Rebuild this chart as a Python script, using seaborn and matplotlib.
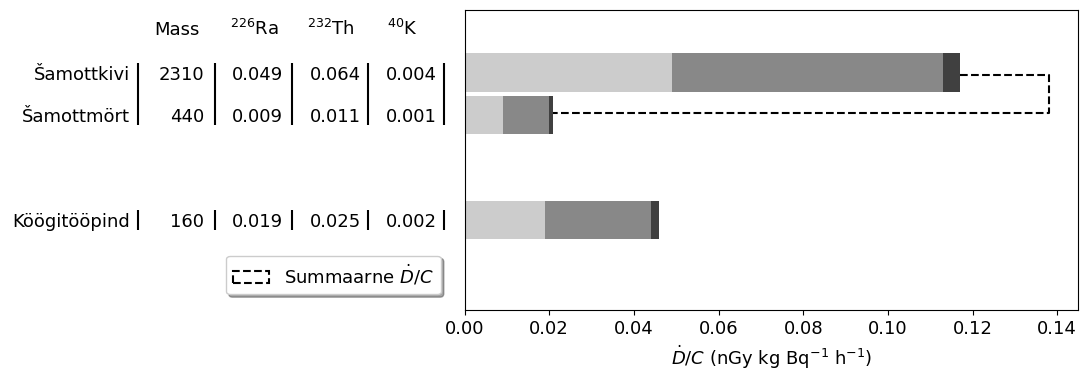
import matplotlib
matplotlib.use("Agg")
import matplotlib.pyplot as plt
import matplotlib.transforms as mtransforms
from matplotlib.patches import Patch
import numpy as np
import pandas as pd
import seaborn as sns

# ---- data ----
names = ["Šamottkivi", "Šamottmört", "Köögitööpind"]
mass = [2310, 440, 160]
ra226 = [0.049, 0.009, 0.019]
th232 = [0.064, 0.011, 0.025]
k40 = [0.004, 0.001, 0.002]
rows = [0, 1, 3.47]
headers = ["Mass", r"$^{226}$Ra", r"$^{232}$Th", r"$^{40}$K"]
groups = [(0, 1), (2, 2)]
legend_label = r"Summaarne $\dot{D}/C$"
xlabel = r"$\dot{D}/C$ (nGy kg Bq$^{-1}$ h$^{-1}$)"

colors = ["#cccccc", "#888888", "#404040"]

FS = 13
plt.rcParams["font.family"] = ["DejaVu Sans"]
plt.rcParams["font.size"] = FS

W, H = 1081, 374
fig = plt.figure(figsize=(W / 100, H / 100), dpi=100)
ax = fig.add_axes([464.5 / W, 1 - 310 / H, (1078 - 464.5) / W, 300 / H])

df = pd.DataFrame({"name": names, "row": rows, "ra": ra226, "th": th232, "k": k40})
df["c1"] = df["ra"]
df["c2"] = df["ra"] + df["th"]
df["c3"] = df["ra"] + df["th"] + df["k"]

for col, c in zip(["c3", "c2", "c1"], colors[::-1]):
    sns.barplot(data=df, x=col, y="row", orient="h", native_scale=True,
                color=c, saturation=1, width=0.9, errorbar=None, ax=ax,
                linewidth=0)

# summed dashed bracket between first two rows
tot = df["c3"].tolist()
s = tot[0] + tot[1]
ax.plot([tot[0], s, s, tot[1]],
        [rows[0] + 0.05, rows[0] + 0.05, rows[1] - 0.05, rows[1] - 0.05],
        color="black", linestyle="--", lw=1.5)

ax.set_xlim(0, s * 1.05)
ax.set_ylim(5.59, -1.47)
ax.set_yticks([])
ax.set_ylabel("")
ax.set_xlabel(xlabel, fontsize=FS)
ax.tick_params(axis="x", labelsize=FS)
ax.set_xticks(np.arange(0, 0.141, 0.02))
ax.xaxis.set_major_formatter(matplotlib.ticker.FormatStrFormatter("%.2f"))

# ---- table on the left ----
trans = mtransforms.blended_transform_factory(fig.transFigure, ax.transData)
px = lambda v: v / W
name_right = 130
num_right = [204, 283, 361, 437]
seps = [137.5, 215, 291.5, 368, 443.5]
head_centers = [176.5, 254, 331, 402.5]
base_off = 0.17

for h, xc in zip(headers, head_centers):
    ax.text(px(xc), -0.88, h, transform=trans, ha="center", va="baseline",
            fontsize=FS, clip_on=False)

for i, r in enumerate(rows):
    ax.text(px(name_right), r + base_off, names[i], transform=trans,
            ha="right", va="baseline", fontsize=FS, clip_on=False)
    vals = [f"{mass[i]}", f"{ra226[i]:.3f}", f"{th232[i]:.3f}", f"{k40[i]:.3f}"]
    for v, xr in zip(vals, num_right):
        ax.text(px(xr), r + base_off, v, transform=trans, ha="right",
                va="baseline", fontsize=FS, clip_on=False)

for a, b in groups:
    y0, y1 = rows[a] - 0.23, rows[b] + 0.23
    for xs in seps:
        ax.plot([px(xs), px(xs)], [y0, y1], transform=trans, color="black",
                lw=1.5, clip_on=False, solid_capstyle="butt")

handle = Patch(facecolor="none", edgecolor="black", linestyle="--", lw=1.5)
fig.legend(handles=[handle], labels=[legend_label], loc="center",
           bbox_to_anchor=((225 + 442) / 2 / W, 1 - (257 + 293) / 2 / H),
           shadow=True, fontsize=FS)

fig.savefig("out.png", dpi=100)
